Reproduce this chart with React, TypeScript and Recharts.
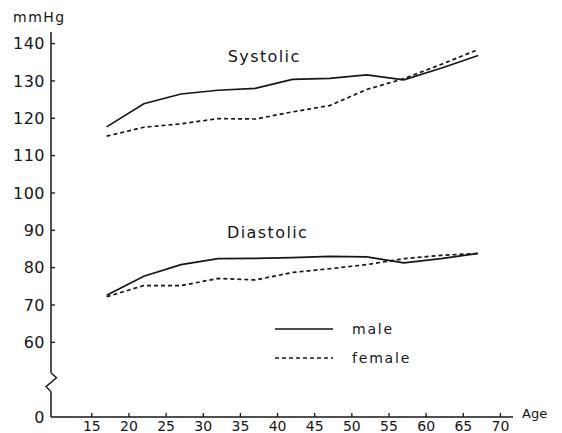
import React from 'react';
import { LineChart, Line, XAxis, YAxis, Legend, ReferenceDot } from 'recharts';

const ages = [17, 22, 27, 32, 37, 42, 47, 52, 57, 62, 67];
const maleSystolic = [117.7, 123.9, 126.5, 127.5, 128.0, 130.4, 130.7, 131.6, 130.3, 133.4, 136.8];
const femaleSystolic = [115.2, 117.6, 118.5, 119.9, 119.8, 121.7, 123.4, 127.7, 130.6, 134.4, 138.4];
const maleDiastolic = [72.6, 77.7, 80.8, 82.4, 82.5, 82.7, 83.0, 82.9, 81.3, 82.4, 83.8];
const femaleDiastolic = [72.2, 75.2, 75.2, 77.1, 76.7, 78.7, 79.7, 80.8, 82.4, 83.3, 83.8];

const xTicks = [15, 20, 25, 30, 35, 40, 45, 50, 55, 60, 65, 70];
// 40 is drawn as the axis origin "0"; 50 is the axis break
const yTicks = [40, 50, 60, 70, 80, 90, 100, 110, 120, 130, 140];
const seriesNames = ['male', 'female'];
const groupLabels = ['Systolic', 'Diastolic'];

const data = ages.map((age, i) => ({
  age,
  ms: maleSystolic[i],
  fs: femaleSystolic[i],
  md: maleDiastolic[i],
  fd: femaleDiastolic[i],
}));

const INK = '#161616';
const FONT = '"DejaVu Sans", sans-serif';

const YTick = (props: any) => {
  const { x, y, payload } = props;
  const ax = x + 6;
  const v = payload.value;
  if (v === 50) {
    return (
      <g>
        <rect x={ax - 3} y={y - 7} width={6} height={19} fill="#fff" />
        <polyline
          points={`${ax},${y - 7} ${ax + 5.5},${y - 2} ${ax - 5},${y + 7} ${ax},${y + 12}`}
          fill="none"
          stroke={INK}
          strokeWidth={1.4}
        />
      </g>
    );
  }
  return (
    <g>
      {v !== 40 && <line x1={ax} y1={y} x2={ax + 4} y2={y} stroke={INK} strokeWidth={1.3} />}
      <text
        x={ax - 6}
        y={y}
        dy="0.36em"
        textAnchor="end"
        fontFamily={FONT}
        fontSize={16}
        letterSpacing={0.5}
        fill={INK}
      >
        {v === 40 ? '0' : String(v)}
      </text>
    </g>
  );
};

const XTick = (props: any) => {
  const { x, y, payload } = props;
  const ay = y - 4;
  return (
    <g>
      <line x1={x} y1={ay} x2={x} y2={ay - 4} stroke={INK} strokeWidth={1.3} />
      <text x={x} y={y} dy="0.71em" textAnchor="middle" fontFamily={FONT} fontSize={14} fill={INK}>
        {payload.value}
      </text>
    </g>
  );
};

const LegendContent = () => (
  <svg width={160} height={52}>
    <line x1={5} y1={11} x2={63} y2={11} stroke={INK} strokeWidth={1.5} />
    <text x={82} y={11} dy="0.36em" fontFamily={FONT} fontSize={14} letterSpacing={1.8} fill={INK}>
      {seriesNames[0]}
    </text>
    <line x1={5} y1={40} x2={63} y2={40} stroke={INK} strokeWidth={1.5} strokeDasharray="4 3" />
    <text x={82} y={40} dy="0.36em" fontFamily={FONT} fontSize={14} letterSpacing={1.8} fill={INK}>
      {seriesNames[1]}
    </text>
  </svg>
);

const makeLabelShape = (text: string) => (p: any) => (
  <text
    x={p.cx}
    y={p.cy}
    dy="0.36em"
    fontFamily={FONT}
    fontSize={16}
    letterSpacing={1.4}
    fill={INK}
  >
    {text}
  </text>
);

export default function App() {
  return (
    <div style={{ position: 'absolute', left: 0, top: 0, width: 562, height: 433, background: '#fff' }}>
      <LineChart
        width={562}
        height={433}
        data={data}
        margin={{ top: 32, right: 49, left: 11, bottom: 0 }}
      >
        <XAxis
          dataKey="age"
          type="number"
          domain={[9.51, 71.69]}
          allowDataOverflow
          ticks={xTicks}
          interval={0}
          height={16}
          tickSize={0}
          tickMargin={4}
          tick={<XTick />}
          tickLine={false}
          axisLine={{ stroke: INK, strokeWidth: 1.5 }}
          label={{
            content: (p: any) => {
              const vb = p.viewBox;
              return (
                <text
                  x={vb.x + vb.width + 9}
                  y={vb.y - 4}
                  dy="0.36em"
                  fontFamily={FONT}
                  fontSize={13}
                  fill={INK}
                >
                  Age
                </text>
              );
            },
          }}
        />
        <YAxis
          type="number"
          domain={[40, 143.1]}
          allowDataOverflow
          ticks={yTicks}
          interval={0}
          width={40}
          tickSize={0}
          tickMargin={6}
          tick={<YTick />}
          tickLine={false}
          axisLine={{ stroke: INK, strokeWidth: 1.5 }}
          label={{
            content: (p: any) => {
              const vb = p.viewBox;
              return (
                <text
                  x={13}
                  y={vb.y - 10}
                  fontFamily={FONT}
                  fontSize={14}
                  letterSpacing={1.5}
                  fill={INK}
                >
                  mmHg
                </text>
              );
            },
          }}
        />
        <Line dataKey="ms" type="linear" stroke={INK} strokeWidth={1.7} dot={false} isAnimationActive={false} />
        <Line dataKey="fs" type="linear" stroke={INK} strokeWidth={1.7} strokeDasharray="4 3" dot={false} isAnimationActive={false} />
        <Line dataKey="md" type="linear" stroke={INK} strokeWidth={1.7} dot={false} isAnimationActive={false} />
        <Line dataKey="fd" type="linear" stroke={INK} strokeWidth={1.7} strokeDasharray="4 3" dot={false} isAnimationActive={false} />
        <ReferenceDot x={33.3} y={136.5} r={0} shape={makeLabelShape(groupLabels[0])} />
        <ReferenceDot x={33.2} y={89.4} r={0} shape={makeLabelShape(groupLabels[1])} />
        <Legend
          layout="horizontal"
          verticalAlign="middle"
          align="center"
          content={<LegendContent />}
          wrapperStyle={{ position: 'absolute', left: 270, top: 318, width: 160, height: 52 }}
        />
      </LineChart>
    </div>
  );
}
